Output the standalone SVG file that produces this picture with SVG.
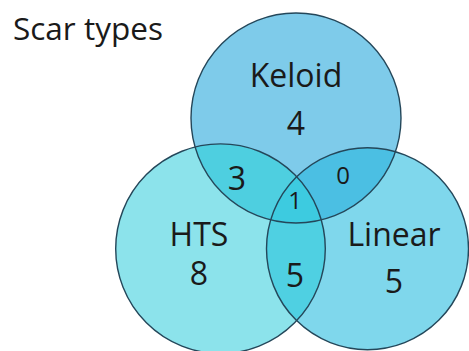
<svg xmlns="http://www.w3.org/2000/svg" width="469" height="351" viewBox="0 0 469 351">
<style>
.t{font-family:"Open Sans","Noto Sans","Liberation Sans",sans-serif;fill:#1a1a1a;text-anchor:middle}
.big{font-size:32px}
.sm{font-size:24px}
.edge{fill:none;stroke:#24475a;stroke-width:1.4}
</style>
<defs>
<clipPath id="cK"><circle cx="296" cy="118" r="105"/></clipPath>
<clipPath id="cH"><circle cx="220.5" cy="248.7" r="104.8"/></clipPath>
<clipPath id="cL"><circle cx="367.5" cy="248.7" r="101"/></clipPath>
</defs>
<rect width="469" height="351" fill="#ffffff"/>
<text class="t" x="13" y="40" style="font-size:31.5px;text-anchor:start">Scar types</text>
<g id="fills">
<circle cx="296" cy="118" r="105" fill="#7ecbea"/>
<circle cx="220.5" cy="248.7" r="104.8" fill="#8ce3eb"/>
<circle cx="367.5" cy="248.7" r="101" fill="#7fd7ec"/>
<g clip-path="url(#cK)"><circle cx="220.5" cy="248.7" r="104.8" fill="#4ecfe0"/><circle cx="367.5" cy="248.7" r="101" fill="#4bbfe3"/></g>
<g clip-path="url(#cH)"><circle cx="367.5" cy="248.7" r="101" fill="#4fd0e2"/></g>
<g clip-path="url(#cH)"><g clip-path="url(#cL)"><circle cx="296" cy="118" r="105" fill="#3dcbe0"/></g></g>
</g>
<g id="keloid">
<circle class="edge" cx="296" cy="118" r="105"/>
<text class="t big" x="296" y="87">Keloid</text>
<text class="t big" x="296" y="135">4</text>
</g>
<g id="hts">
<circle class="edge" cx="220.5" cy="248.7" r="104.8"/>
<text class="t big" x="199" y="246">HTS</text>
<text class="t big" x="199" y="285">8</text>
</g>
<g id="linear">
<circle class="edge" cx="367.5" cy="248.7" r="101"/>
<text class="t big" x="394" y="246">Linear</text>
<text class="t big" x="394" y="293">5</text>
</g>
<g id="overlaps">
<text class="t big" x="237" y="190">3</text>
<text class="t sm" x="343" y="184">0</text>
<text class="t sm" x="295" y="209">1</text>
<text class="t big" x="295" y="287">5</text>
</g>
</svg>
